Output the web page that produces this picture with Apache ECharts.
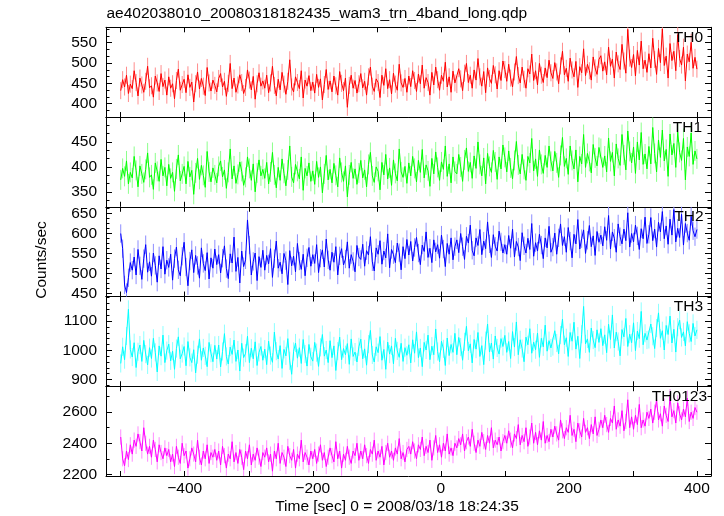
<!DOCTYPE html>
<html><head><meta charset="utf-8">
<script src="https://cdn.jsdelivr.net/npm/echarts@6/dist/echarts.min.js"></script>
<style>html,body{margin:0;padding:0;background:#fff}#c{width:724px;height:516px}</style>
</head><body><div id="c"></div>
<script>
// ---------- data ----------
const chartTitle = "ae402038010_20080318182435_wam3_trn_4band_long.qdp";
const xTitle = "Time [sec] 0 = 2008/03/18 18:24:35";
const yTitle = "Counts/sec";
const bandNames = ["TH0", "TH1", "TH2", "TH3", "TH0123"];
const timeStart = -500;   // first bin time [s]
const timeStep = 3;       // bin width [s]

const th0 = [
432,459,441,470,425,448,437,481,452,419,463,446,428,455,492,439,444,416,468,451,430,474,442,458,421,
466,438,449,412,457,485,433,447,460,427,471,440,453,404,449,478,436,462,443,420,489,451,431,458,445,
429,462,474,441,455,418,450,499,437,463,428,446,471,452,425,440,483,458,434,467,411,449,476,443,456,
438,470,427,451,492,445,419,460,434,477,448,423,455,508,441,429,466,452,437,481,414,458,443,469,432,
453,426,472,440,461,409,447,484,435,456,429,468,444,421,479,450,432,463,391,445,470,438,457,426,449,
474,439,455,421,466,490,443,430,461,452,415,470,445,486,437,459,424,475,448,433,497,451,440,462,428,
468,442,481,457,430,473,449,495,438,464,452,421,477,446,490,459,433,470,455,502,441,466,428,480,451,
447,486,461,432,475,499,452,470,438,483,458,511,466,443,479,427,488,462,450,494,471,436,481,457,505,
484,455,497,463,441,478,516,469,451,490,460,438,486,473,522,457,481,446,499,470,452,488,464,507,476,
462,501,478,449,493,529,471,487,455,512,483,466,504,440,491,476,535,469,497,481,458,515,488,472,509,
518,480,503,471,539,492,510,463,527,498,484,546,505,475,583,512,489,521,468,531,495,554,486,507,477,
523,488,561,509,472,536,501,584,494,517,463,548,506,529,481,570,511,495,539,456,522,503,551,487,514,
485];

const th1 = [
374,397,381,412,366,389,378,421,393,360,402,386,369,395,428,379,384,355,408,391,371,415,382,399,362,
405,377,389,351,396,424,372,386,401,366,411,380,393,345,388,417,375,403,383,359,431,390,370,398,384,
368,401,412,380,394,357,389,436,376,402,367,385,410,391,363,379,420,397,373,406,350,388,414,382,395,
377,409,366,390,429,384,358,399,373,416,387,362,394,442,380,368,405,391,376,420,353,397,382,408,371,
392,365,411,379,400,348,386,423,374,395,368,407,383,360,418,389,371,402,340,384,409,377,396,365,388,
413,378,394,360,405,429,382,369,400,391,354,409,384,425,376,398,363,414,387,372,436,390,379,401,367,
408,382,421,397,370,413,389,435,378,404,392,361,417,386,430,399,373,410,395,442,381,406,368,420,391,
386,425,400,371,414,438,391,409,377,422,397,450,405,382,418,366,427,401,389,433,410,375,420,396,444,
419,390,432,398,376,413,451,404,386,425,395,373,421,408,457,392,416,381,434,405,387,423,399,442,411,
392,431,408,379,423,459,401,417,385,442,413,396,434,370,421,406,465,399,427,411,388,445,418,402,439,
437,399,422,390,458,411,429,382,446,417,403,465,424,394,472,431,408,440,387,450,414,469,405,426,396,
441,406,479,427,390,454,419,474,412,435,381,466,424,447,399,470,429,413,457,374,440,421,468,405,432,
416];

const th2 = [
600,562,471,452,489,527,508,541,496,560,519,485,537,572,503,529,493,551,520,478,544,511,567,498,533,
515,548,483,537,566,509,494,543,578,516,469,531,559,502,545,520,488,564,525,507,552,486,539,513,561,
522,547,501,538,569,512,487,549,526,591,505,540,476,556,517,534,634,571,496,530,551,482,542,515,558,
508,545,524,562,490,537,581,513,528,499,550,532,472,557,519,543,504,575,531,510,548,494,539,565,518,
547,525,572,502,538,559,516,586,534,508,553,528,567,496,544,562,521,536,579,513,547,530,504,570,541,
535,573,518,557,546,592,529,506,564,548,582,523,556,539,599,514,560,547,527,576,552,509,567,537,585,
546,580,531,565,590,551,522,571,555,604,540,563,527,584,554,572,538,596,561,517,575,548,589,534,567,
584,552,600,567,535,593,576,621,558,544,589,570,610,547,581,562,629,574,540,597,568,556,606,579,551,
572,548,595,563,611,541,580,566,532,602,569,551,588,560,625,543,577,556,598,571,537,589,564,618,553,
566,601,548,589,624,570,592,553,615,581,539,598,574,635,561,587,609,550,583,620,567,594,545,605,578,
596,569,617,583,645,561,604,588,553,624,592,574,611,582,652,566,600,579,621,594,560,612,587,641,575,
598,640,582,611,566,628,604,655,587,619,573,636,596,660,579,613,590,648,571,625,601,583,643,607,592,
610];

const th3 = [
955,1012,968,1049,1140,1003,977,1026,941,995,1018,962,1034,987,950,1009,972,1041,993,926,1015,980,1052,958,999,
1021,964,997,935,1006,1046,971,989,1013,947,1030,976,958,1002,923,985,1039,966,1008,981,944,1027,990,961,1017,
970,1018,943,996,1057,979,953,1011,986,1035,962,1001,929,1024,975,990,1048,958,1007,971,1029,948,993,1013,966,
1004,951,1031,982,959,1062,997,970,1016,938,1003,981,1040,964,918,996,1025,973,1009,955,1037,987,946,1020,978,
963,1027,992,945,1010,1054,980,1001,958,1033,975,1015,931,997,1045,968,1006,985,1023,952,1039,979,994,960,1012,
1038,971,1005,949,1021,1068,984,960,1012,992,1047,966,1003,935,1028,987,1015,954,1041,998,976,1024,962,1009,983,
1019,957,1036,990,1063,975,1008,944,1027,1001,1052,968,1014,985,1073,996,961,1031,1005,948,1042,982,1020,993,1058,
985,1044,1011,966,1029,1082,998,1022,957,1037,1004,1061,979,1016,951,1033,1090,994,1025,970,1049,1008,987,1040,1013,
1051,993,1030,972,1064,1011,1097,985,1036,1006,961,1045,1019,1074,990,1028,1002,1059,976,1041,1012,1086,997,1033,1008,
1013,1067,1025,988,1052,1107,1019,1043,979,1061,1031,1096,1004,1048,972,1055,1150,1022,1039,993,1076,1035,1009,1070,1027,
1074,1016,1053,992,1089,1037,1121,1008,1062,1030,981,1071,1046,1109,1013,1055,1026,1094,999,1066,1040,1133,1019,1058,1035,
1037,1090,1048,1006,1076,1128,1041,1067,1001,1085,1054,1117,1025,1072,994,1079,1103,1044,1063,1015,1098,1058,1030,1092,1049,
1070];

const th0123 = [
2440,2300,2255,2350,2295,2390,2330,2420,2380,2460,2410,2350,2500,2400,2330,2380,2310,2420,2360,2280,2390,2340,2300,2370,2320,
2360,2280,2330,2250,2380,2310,2270,2400,2320,2350,2240,2300,2370,2330,2280,2420,2310,2260,2350,2300,2390,2270,2340,2310,2360,
2290,2350,2260,2380,2320,2240,2330,2300,2410,2280,2340,2270,2360,2310,2230,2350,2300,2390,2260,2330,2290,2370,2310,2250,2340,
2310,2370,2280,2330,2220,2350,2300,2400,2270,2340,2310,2250,2380,2320,2290,2360,2240,2330,2300,2420,2280,2340,2310,2260,2350,
2300,2360,2270,2330,2390,2290,2340,2250,2310,2370,2320,2280,2410,2300,2350,2240,2330,2290,2380,2310,2270,2350,2320,2400,2290,
2350,2300,2390,2320,2270,2360,2330,2420,2290,2350,2310,2380,2260,2340,2400,2310,2350,2290,2370,2330,2430,2300,2340,2280,2360,
2380,2330,2410,2350,2300,2390,2360,2440,2320,2380,2340,2420,2290,2370,2450,2340,2390,2310,2400,2350,2460,2330,2370,2320,2400,
2370,2430,2390,2460,2350,2410,2440,2380,2490,2400,2340,2420,2380,2470,2410,2360,2450,2400,2500,2370,2420,2390,2440,2350,2410,
2450,2400,2480,2420,2370,2460,2430,2520,2390,2450,2410,2500,2380,2440,2530,2400,2470,2390,2480,2420,2540,2400,2450,2410,2490,
2440,2510,2460,2420,2550,2480,2430,2500,2470,2580,2450,2490,2410,2530,2480,2440,2560,2470,2500,2430,2520,2460,2570,2450,2490,
2550,2500,2580,2520,2470,2560,2530,2640,2490,2550,2510,2610,2480,2540,2680,2500,2570,2490,2580,2520,2650,2500,2550,2510,2600,
2560,2620,2530,2600,2680,2550,2590,2510,2640,2580,2540,2700,2570,2610,2530,2660,2590,2550,2620,2570,2690,2540,2600,2560,2630,
2600];

const bandErrors = [21, 20, 23, 31, 49];          // typical 1-sigma error bar per band
const xRange = [-523, 422];
const xTickLabels = [-400, -200, 0, 200, 400];
const yRanges = [[367, 588], [320, 500], [442, 667], [877, 1184], [2189, 2767]];
const yTickLabels = [[400, 450, 500, 550], [350, 400, 450], [450, 500, 550, 600, 650], [900, 1000, 1100], [2200, 2400, 2600]];
const yMinorSteps = [50/3, 50/3, 12.5, 20, 100];

// ---------- chart ----------
const bands = [th0, th1, th2, th3, th0123];
const lineColors = ['#ff0000', '#00ff00', '#0000ff', '#00ffff', '#ff00ff'];
const barColors = ['#ff8c8c', '#8cff8c', '#8c8cff', '#8cffff', '#ff8cff'];
const labelRight = [703, 702, 703.5, 703, 707];

const FONT = "'Liberation Sans', Arial, Helvetica, sans-serif";
const FS = 15.5;
const L = 106, R = 711, T = 27.3, B = 476;
const H = (B - T) / 5;

function ticksFrom(min, max, step) {
  const a = [];
  for (let k = Math.ceil(min / step - 1e-9); k * step <= max + 1e-9; k++) a.push(+(k * step).toFixed(4));
  return a;
}
const fmt = v => (v < 0 ? '\u2212' + (-v) : '' + v);
const axLine = { show: true, onZero: false, lineStyle: { color: '#000', width: 1 } };

const grids = [], xAxes = [], yAxes = [], series = [], graphics = [];
const xTicks = ticksFrom(xRange[0], xRange[1], 100);

for (let i = 0; i < 5; i++) {
  grids.push({ left: L, top: T + i * H, width: R - L, height: H });
  ['bottom', 'top'].forEach(pos => {
    xAxes.push({
      type: 'value', gridIndex: i, position: pos, min: xRange[0], max: xRange[1],
      axisLine: axLine,
      axisTick: { show: true, inside: true, length: 5, customValues: xTicks, lineStyle: { color: '#000' } },
      axisLabel: {
        show: pos === 'bottom' && i === 4, customValues: xTickLabels, formatter: fmt,
        color: '#000', fontFamily: FONT, fontSize: FS, margin: 5
      },
      splitLine: { show: false }
    });
  });
  const yr = yRanges[i];
  const minor = ticksFrom(yr[0], yr[1], yMinorSteps[i]);
  ['left', 'right'].forEach(pos => {
    yAxes.push({
      type: 'value', gridIndex: i, position: pos, min: yr[0], max: yr[1],
      axisLine: axLine,
      axisTick: { show: true, inside: true, length: 6, customValues: yTickLabels[i], lineStyle: { color: '#000' } },
      axisLabel: {
        show: pos === 'left', customValues: yTickLabels[i], formatter: fmt,
        color: '#000', fontFamily: FONT, fontSize: FS, margin: 9
      },
      splitLine: { show: false }
    });
    yAxes.push({
      type: 'value', gridIndex: i, position: pos, min: yr[0], max: yr[1],
      axisLine: { show: false, onZero: false },
      axisTick: { show: true, inside: true, length: 3.5, customValues: minor, lineStyle: { color: '#000' } },
      axisLabel: { show: false },
      splitLine: { show: false }
    });
  });
  const vals = bands[i];
  const err = bandErrors[i];
  series.push({
    type: 'custom', xAxisIndex: 2 * i, yAxisIndex: 4 * i, clip: true, silent: true, z: 1,
    data: vals.map((v, k) => [timeStart + k * timeStep, v - err, v + err]),
    encode: { x: 0, y: [1, 2] },
    renderItem: (params, api) => {
      const p1 = api.coord([api.value(0), api.value(1)]);
      const p2 = api.coord([api.value(0), api.value(2)]);
      return { type: 'line', shape: { x1: p1[0], y1: p1[1], x2: p2[0], y2: p2[1] },
               style: { stroke: barColors[i], lineWidth: 1 } };
    }
  });
  series.push({
    type: 'line', xAxisIndex: 2 * i, yAxisIndex: 4 * i, z: 2,
    data: vals.map((v, k) => [timeStart + k * timeStep, v]),
    showSymbol: false, symbol: 'none', clip: true,
    lineStyle: { color: lineColors[i], width: 1 }, itemStyle: { color: lineColors[i] }
  });
  graphics.push({
    type: 'text', z: 100,
    style: { text: bandNames[i], x: labelRight[i], y: T + i * H + 10.3, textAlign: 'right', textVerticalAlign: 'middle',
             font: FS + 'px ' + FONT, fill: '#000' }
  });
}

graphics.push({ type: 'text', style: { text: chartTitle, x: 106.5, y: 14, textAlign: 'left', textVerticalAlign: 'middle', font: FS + 'px ' + FONT, fill: '#000' } });
graphics.push({ type: 'text', style: { text: xTitle, x: 397, y: 506.5, textAlign: 'center', textVerticalAlign: 'middle', font: FS + 'px ' + FONT, fill: '#000' } });
graphics.push({ type: 'text', x: 41.5, y: 260, rotation: Math.PI / 2,
  style: { text: yTitle, x: 0, y: 0, textAlign: 'center', textVerticalAlign: 'middle', font: FS + 'px ' + FONT, fill: '#000' } });

const chart = echarts.init(document.getElementById('c'), null, { renderer: 'canvas' });
chart.setOption({
  animation: false,
  backgroundColor: '#fff',
  grid: grids, xAxis: xAxes, yAxis: yAxes, series: series, graphic: graphics
});
</script></body></html>
